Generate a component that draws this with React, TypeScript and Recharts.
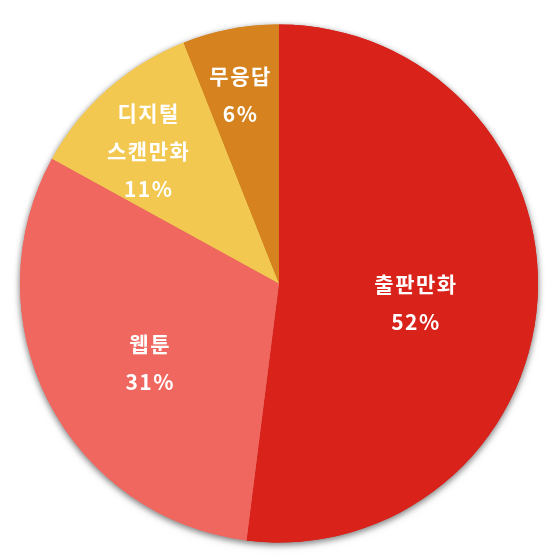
import React from 'react'
import { PieChart, Pie, Cell } from 'recharts'

const categories = ['출판만화', '웹툰', '디지털 스캔만화', '무응답']
const shares = [52, 31, 11, 6]

const COLORS = ['#d8221a', '#f0675f', '#f2c851', '#d5821f']
// how far out each label sits, as a share of the radius, plus a small nudge
const LABEL_RADIUS = [0.53, 0.58, 0.72, 0.75]
const LABEL_NUDGE = [
  [0, 10],
  [5, 10],
  [-7, 6],
  [-2, 1],
]

const data = categories.map((name, i) => ({ name, value: shares[i] }))

const RADIAN = Math.PI / 180

const renderLabel = (props: any) => {
  const { cx, cy, midAngle, outerRadius, index, name, value } = props
  const r = outerRadius * LABEL_RADIUS[index]
  const x = cx + r * Math.cos(-midAngle * RADIAN) + LABEL_NUDGE[index][0]
  const y = cy + r * Math.sin(-midAngle * RADIAN) + LABEL_NUDGE[index][1]
  const lines = [...String(name).split(' '), `${value}%`]
  const lineHeight = 38
  const top = y - ((lines.length - 1) * lineHeight) / 2
  return (
    <text
      x={x}
      y={top}
      fill="#ffffff"
      textAnchor="middle"
      dominantBaseline="central"
      style={{
        fontFamily: '"Noto Sans CJK KR", "Noto Sans", sans-serif',
        fontWeight: 700,
        fontSize: 21,
        letterSpacing: 1.5,
      }}
    >
      {lines.map((line, i) => (
        <tspan key={i} x={x} dy={i === 0 ? 0 : lineHeight}>
          {line}
        </tspan>
      ))}
    </text>
  )
}

export default function App() {
  const pieProps = {
    data,
    dataKey: 'value',
    nameKey: 'name',
    cx: 271,
    cy: 275.5,
    outerRadius: 259,
    startAngle: 90,
    endAngle: -270,
    stroke: 'none',
    isAnimationActive: false,
  }
  return (
    <div style={{ width: 548, height: 552 }}>
      <style>{`.pie-shadow { filter: drop-shadow(0 2px 3px rgba(0,0,0,0.3)); }`}</style>
      <PieChart width={548} height={552} margin={{ top: 0, right: 0, bottom: 0, left: 0 }}>
        {/* same pie underneath, only to cast the soft outer shadow */}
        <Pie {...pieProps} className="pie-shadow" label={false} labelLine={false}>
          {data.map((entry, index) => (
            <Cell key={`shadow-${index}`} fill={COLORS[index % COLORS.length]} />
          ))}
        </Pie>
        <Pie {...pieProps} labelLine={false} label={renderLabel}>
          {data.map((entry, index) => (
            <Cell key={`cell-${index}`} fill={COLORS[index % COLORS.length]} />
          ))}
        </Pie>
      </PieChart>
    </div>
  )
}
